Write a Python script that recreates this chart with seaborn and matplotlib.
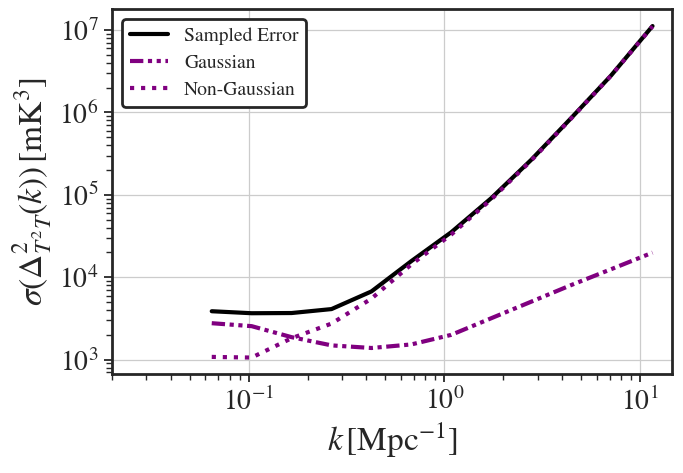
import numpy as np
import pandas as pd
import matplotlib
matplotlib.use("Agg")
import matplotlib.pyplot as plt
import seaborn as sns

# --- data (k in Mpc^-1, sigma in mK^3)
k_vals = [0.0647, 0.1035, 0.1656, 0.265, 0.424, 0.678, 1.085, 1.736, 2.78, 4.44, 7.11, 11.6]
sampled_err = [3870, 3660, 3680, 4110, 6730, 15700, 35200, 91000, 266000, 850000, 2.8e6, 1.12e7]
gauss_err = [2770, 2550, 1875, 1490, 1385, 1530, 2000, 3180, 5050, 8020, 12500, 19900]
nongauss_err = [1080, 1060, 1820, 2740, 5500, 14300, 33000, 88000, 261000, 842000, 2.79e6, 1.11e7]

series_names = ["Sampled Error", "Gaussian", "Non-Gaussian"]

# ---------------------------
# style
# ---------------------------
sns.set_style("ticks", {
    "axes.grid": True,
    "grid.color": "#cccccc",
    "axes.edgecolor": "#262626",
    "xtick.direction": "out",
    "ytick.direction": "out",
})
plt.rcParams["font.family"] = ["STIXGeneral", "DejaVu Sans"]
plt.rcParams["mathtext.fontset"] = "stix"
plt.rcParams["axes.linewidth"] = 2
plt.rcParams["xtick.major.size"] = 6
plt.rcParams["xtick.minor.size"] = 4
plt.rcParams["ytick.major.size"] = 6
plt.rcParams["ytick.minor.size"] = 4
plt.rcParams["xtick.major.width"] = 1.3
plt.rcParams["xtick.minor.width"] = 1.0
plt.rcParams["ytick.major.width"] = 1.3
plt.rcParams["ytick.minor.width"] = 1.0

df = pd.DataFrame({"k": k_vals, "sampled": sampled_err,
                   "gauss": gauss_err, "nongauss": nongauss_err})

fig, ax = plt.subplots(figsize=(6.83, 4.73), dpi=100)

sns.lineplot(data=df, x="k", y="sampled", ax=ax, color="black", lw=3,
             label=series_names[0])
sns.lineplot(data=df, x="k", y="gauss", ax=ax, color="purple", lw=3,
             linestyle=(0, (3.2, 1.1, 1, 1.1, 1, 1.1)), label=series_names[1])
sns.lineplot(data=df, x="k", y="nongauss", ax=ax, color="purple", lw=3,
             linestyle=":", label=series_names[2])

ax.set_xscale("log")
ax.set_yscale("log")
ax.set_xlim(0.02, 14.6)
ax.grid(True, which="major", color="#cccccc", lw=0.9)
ax.grid(False, which="minor")

ax.set_xlabel(r"$k\,[\mathrm{Mpc}^{-1}]$", fontsize=24)
ax.set_ylabel(r"$\sigma(\Delta^2_{T^2T}(k))\,[\mathrm{mK}^3]$", fontsize=24)
ax.tick_params(axis="both", which="major", labelsize=20)

leg = ax.legend(loc="upper left", fontsize=14, frameon=True, framealpha=1,
                fancybox=True)
leg.get_frame().set_edgecolor("#262626")
leg.get_frame().set_linewidth(2)

plt.subplots_adjust(left=0.164, right=0.984, top=0.980, bottom=0.209)
plt.savefig("out.png", dpi=100)
